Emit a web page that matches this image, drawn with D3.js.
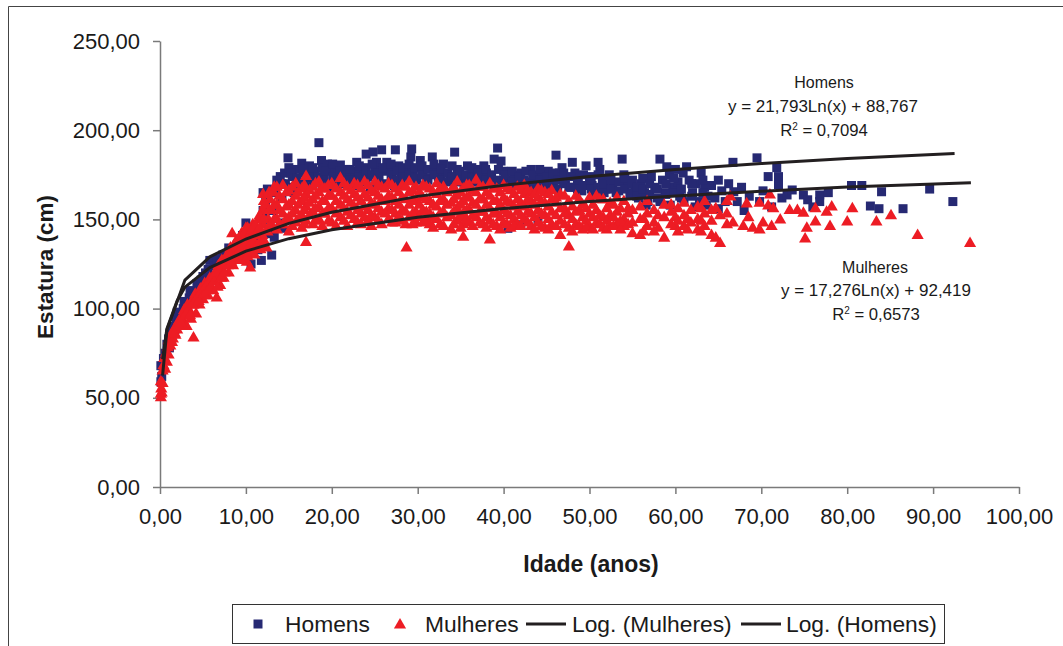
<!DOCTYPE html>
<html><head><meta charset="utf-8">
<script src="https://cdn.jsdelivr.net/npm/d3@7"></script>
<style>html,body{margin:0;padding:0;background:#fff}svg{display:block}text{font-family:"Liberation Sans",Arial,sans-serif;fill:#1a1a1a}</style>
</head><body><svg id="c" width="1063" height="646"></svg>
<script>
const xTicks=[0,10,20,30,40,50,60,70,80,90,100];
const yTicks=[0,50,100,150,200,250];
// rows: [idade, estatura, estatura, ...]
const homensInfancia=[[0.1,68,59],[0.2,62],[0.3,68],[0.4,72],[0.6,75],[0.8,80],[1,83],[1.1,78],[1.3,86],[1.5,90],[1.7,88],[1.9,94],[2,98],[2.2,96],[2.4,92],[2.7,100],[2.8,104],[3,103],[3.2,97],[3.4,106],[3.5,110],[3.7,110],[4,108],[4.2,104],[4.3,114],[4.5,113],[4.8,116],[5,111,118],[5.3,120],[5.6,122],[5.8,127],[6,118],[6.3,124],[6.6,128],[7,125],[7.3,130],[7.6,128],[8,134],[8.2,127],[8.6,132],[9,136],[9.3,130],[9.6,141],[10,148,135],[10.3,131],[10.6,125],[11,140],[11.2,144],[11.4,133],[11.8,127],[12,155,165],[12.1,150],[12.3,160],[12.5,167],[12.7,142],[13,130],[13.1,155],[13.3,140,165],[13.6,172],[14,174,148],[14.3,145]];
const homensJovens=[[14.5,176],[14.6,170],[14.9,184.5],[15,179],[15.4,174],[15.6,165],[16,178],[16.2,170],[16.5,181.5],[16.9,176],[17.1,168],[17.4,180],[17.6,173],[18,177],[18.2,171],[18.5,193],[18.8,183],[18.9,179],[19.1,174],[19.5,181],[19.7,168],[20,178],[20.3,172],[20.7,176],[21,180.5],[21.2,170],[21.6,178],[21.9,173],[22.3,175],[22.6,169],[22.9,182],[23,177],[23.4,172],[23.8,179],[24,186.6],[24.2,174],[24.5,168],[24.8,187.8],[25,178],[25.2,182],[25.5,173],[25.8,189],[25.9,177],[26.2,170],[26.4,182],[26.7,178],[27,174],[27.3,169],[27.4,189],[27.8,180],[28.1,175],[28.4,171],[28.8,178],[29.2,185],[29.3,189.5],[29.5,176],[29.9,172]];
const homensAdultos=[[30.3,183],[30.6,177],[31,173],[31.7,185],[32,179],[32.4,174],[33,181],[33.3,176],[33.8,172],[34.3,187.7],[34.6,178],[35,174],[35.4,170],[35.8,180],[36.1,175],[36.5,171],[36.9,178],[37.3,174],[37.7,180],[38,176],[38.4,171],[38.9,183.8],[39.3,190],[39.7,182.7],[40,177],[40.4,172],[40.5,145],[40.8,168],[41.2,175],[41.6,170],[42,176,147],[42.4,172],[42.8,167],[43.2,178],[43.6,174],[44,169,150],[44.4,175],[44.8,171],[45.2,177],[45.6,172],[46.1,186],[46.5,176],[46.8,179],[47.2,172],[47.6,168],[48,182],[48.3,176],[48.7,171],[49.1,166],[49.6,180],[50,174],[50.3,169],[50.7,165],[51,182],[51.2,178],[51.5,172],[51.9,167],[52.3,175],[52.7,170],[53.1,165],[53.8,183.8],[54,175],[54.3,170],[54.7,164],[55,172],[55.3,167],[55.7,162]];
const homensIdosos=[[56,170],[56.4,165],[56.6,158],[56.8,160],[57.2,174],[57.6,168],[58.2,183.8,160],[58.5,172],[58.8,165],[59,179.5],[59.3,175],[59.4,158],[59.7,168],[60,178],[60.3,171],[60.5,163],[60.9,176],[61,160],[61.3,179.5],[61.6,172],[62,165],[62.3,157],[62.4,170],[62.8,160],[63,176],[63.4,168],[63.6,158],[63.8,163],[64.2,169],[64.6,162],[65,172,156],[65.4,166],[65.8,160],[66.2,170],[66.7,182],[66.8,165.5],[67.2,160],[67.7,168],[68,155],[68.6,163],[69.5,184.5],[69.8,160],[70.2,166],[70.8,174],[71.2,157],[71.8,179],[72,174,169.5],[72.4,162],[73,163.7],[73.6,166.5],[74.9,163.7],[75.4,161],[76,157],[76.8,163.7,160],[77.8,165],[80.5,169],[81.7,169],[82.7,157.5],[83.7,156],[84,165.5],[86.5,156],[89.6,167],[92.3,160]];
const homensDensos=[[14.2,170,162],[15.2,176,168],[15.9,173],[16.7,178,171],[17.3,175,167],[17.8,179,170],[18.4,174],[19.3,177,170],[20.1,181,174],[20.9,177,171],[21.7,175],[22.1,178,172],[23.2,180,174],[24,177,171],[24.7,181,175],[25.4,176,170],[26,179],[26.9,181,175],[27.6,177,172],[28.3,179,174],[29,181,175],[29.7,179,173],[30.5,180,175],[31.2,178,172],[31.9,181,175],[32.7,178,172],[33.5,176,171],[34,180,174],[34.9,177,171],[35.6,175,170],[36.3,179,173],[37,176,171],[37.9,178,172],[38.6,175,170],[39.4,178,172],[40.2,175,170],[41,177,171],[41.8,174,169],[42.6,177,171],[43.4,175,169],[44.2,178,172],[45,174,169],[45.8,176,170],[46.3,172,167],[47,176,170],[47.9,174,168],[48.6,172,167],[49.3,175,169],[50.2,172,167],[51,175,168],[51.7,170,165],[52.5,172,167],[53.4,171,166],[54.1,173,167],[54.9,170,165],[55.5,168,163],[56.2,173,167],[57,170,164],[57.9,167,162],[58.9,170,164],[59.8,173,165],[60.7,167,162],[61.9,170,163],[63.2,172,165]];
const mulheresInfancia=[[0.1,50,52,59],[0.15,55],[0.2,52.7],[0.3,58,65],[0.4,68],[0.5,72],[0.6,66],[0.7,75],[0.8,70],[0.9,78],[1,74,82],[1.2,79],[1.3,85],[1.5,83],[1.6,88],[1.8,85],[1.9,90],[2,88],[2.2,93],[2.3,90],[2.5,95],[2.7,93],[2.8,99],[3,96],[3.1,90],[3.2,102],[3.4,99],[3.6,94],[3.7,104],[3.9,83.5,102],[4.1,108],[4.2,97],[4.4,105],[4.6,102],[4.7,111],[4.9,108],[5,105],[5.2,114],[5.4,112],[5.6,107],[5.8,117],[6,115],[6.2,110],[6.4,120],[6.6,106,118],[6.8,124],[7,113,121],[7.2,127],[7.4,117],[7.6,124],[7.8,130],[8,120,128],[8.2,134],[8.4,142],[8.5,124],[8.6,132],[8.9,138],[9,127],[9.2,135],[9.5,142],[9.6,130],[9.8,138],[10,145],[10.1,126],[10.3,134],[10.5,122.7,141],[10.8,147],[11,130,137],[11.3,144],[11.5,150],[11.7,133],[11.9,141],[12,147,155,164],[12.2,158],[12.4,134],[12.5,143],[12.6,150],[12.8,161],[13,155,147],[13.2,165]];
const mulheresInfanciaDensa=[[1.4,81],[1.7,86],[2.1,91],[2.4,92],[2.9,96],[3.3,99],[3.5,96],[3.8,102],[4.3,106],[4.5,104],[4.8,109],[5.1,108],[5.3,112],[5.5,110],[5.7,115],[5.9,112],[6.1,117],[6.3,115],[6.5,120],[6.7,112],[6.9,122],[7.1,117],[7.3,124],[7.5,120],[7.7,127],[7.9,124],[8.1,131],[8.3,126],[8.7,129,136],[9.1,131,138],[9.4,127,134,141],[9.9,131,136,143],[10.2,129,139,145],[10.7,132,137,144],[11.1,134,141,147],[11.6,137,145,152],[12.1,138,150,160],[12.7,146,155,165],[13.3,150,158,168]];
const mulheresJovens=[[13.6,168,158,150,144],[14.3,169,161,153,147],[15,166,158,151,143],[15.8,170,163,155,148],[16.5,167,160,152,145],[17,174,164,157,149,137],[17.8,168,161,154,147],[18.5,171,165,157,150],[19.2,167,160,153],[20,170,163,156,148],[21,173,165,158,151],[21.8,168,161,154,146],[22.6,170,164,157,150],[23.4,167,160,153,147],[24.2,169,162,155,149],[25,171,165,158,151],[25.8,168,161,154,147],[26.6,170,163,156,150],[27.4,167,160,153,148],[28.2,169,162,155,149],[28.7,134],[29,171,165,158,151],[29.8,168,161,154,148]];
const mulheresAdultas=[[30.6,169,162,155,148],[31.4,167,160,153,147],[32.2,170,164,157,150],[33,168,161,154,146],[33.9,166,159,152,144],[34.6,171,163,156,149],[35.3,167,160,153,147,140],[36,169,162,155,148],[36.8,172,165,158,151],[37.6,168,161,154,147],[38.4,170,163,156,149,138.5],[39.2,167,160,153,146],[40,169,162,155,148],[40.8,166,159,152,145],[41.6,168,161,154,147],[42.4,169,164,157,150],[43.2,165,160,153,146],[44,167,162,155,148],[44.8,165,159,152,145],[45.6,166,161,154,147],[46.6,164,156,149,141],[47.6,160,152,145,134.5],[48.4,163,154,147],[49.2,158,151,144],[50,162,153,146],[50.8,163,155,148],[51.6,161,151,145],[52.4,159,152,146],[53.2,162,154,147],[54,160,150,146]];
const mulheresDensas=[[13.9,163,155,147],[14.7,165,157,150],[15.4,168,160,153,146],[16.1,165,158,150],[16.8,169,162,155,147],[17.4,166,159,152],[18.1,170,163,156,149],[18.9,167,160,153,146],[19.6,169,163,156,149],[20.5,167,160,153,146],[21.4,170,163,156,149],[22.2,166,159,152],[23,169,162,155,148],[23.8,171,164,157,151],[24.6,166,159,152,146],[25.4,169,163,156,149],[26.2,167,160,153],[27,169,162,155,148],[27.8,165,158,151],[28.6,168,161,154,147],[29.4,166,160,153,147],[30.2,165,158,151],[31,168,161,154,150],[31.8,165,158,151,145],[32.6,167,160,153,147],[33.4,165,158,151],[34.2,168,161,154,147],[35,165,158,151,145],[35.7,169,162,155,150],[36.4,166,159,152,146],[37.2,168,161,154,148],[38,165,158,151,145],[38.8,167,160,153,147],[39.6,165,158,151,144],[40.4,167,160,153,147],[41.2,164,157,150,146],[42,166,159,152,146],[42.8,166,161,154,148],[43.6,164,158,151,144],[44.4,166,160,153,146],[45.2,164,157,150,144],[46.1,162,159,152,146],[47.1,163,156,153,147],[48,157,150,143],[48.8,161,155,146],[49.6,156,149,145],[50.4,158,151,144],[51.2,161,152,147],[52,156,149,144],[52.8,158,151,146],[53.6,156,149,144],[54.5,156,153,147],[56.3,150,143],[58,152,145],[60,151,146],[61.4,150,144],[63,156,149,143]];
const mulheresIdosas=[[55,155,148,142],[55.9,157,150,141],[56.7,160,153,146],[57.5,155,148,143],[58.7,158,151,139.5],[59.5,158,154,147],[60.3,156,149,143],[61,159,152,146],[61.8,155,148],[62.6,157,150,144],[63.4,160,153,146],[64.2,155,149,141],[64.7,156,139.5],[65.2,152,136.5],[66,160,153,147],[66.4,162.5],[66.7,148],[67.9,146],[68.3,158.7],[68.5,151],[69,145],[69.8,144,159],[70.2,148],[70.8,157.5],[71,163.7],[71.2,146],[71.4,156],[72.2,149.7],[73.3,155],[74.2,155],[74.9,153.5],[75.1,139],[75.3,145],[76.3,156,148.5],[77.6,154],[78,146],[78.2,157],[80,148.5],[80.6,156],[83.4,148.5],[85.1,152],[88.2,141],[94.3,136.5]];
const idadeLogHomens=[0.3,0.8,2.9,5.8,10,15,20,30,40,50,60,70,80,92.5];
const logHomens=[62.5,88,116,129,139,147.8,154,162.9,169.2,174,178,181.3,184.2,187];
const idadeLogMulheres=[0.3,0.8,2,2.9,5.8,10,15,20,30,40,50,60,70,80,94.4];
const logMulheres=[71.6,88.6,104.4,112,123,132.2,139.2,144.2,151.2,156.1,160,163.1,165.8,168.1,170.6];

const svg=d3.select("#c");
const x=d3.scaleLinear().domain([0,100]).range([160,1019]);
const y=d3.scaleLinear().domain([0,250]).range([487,41]);
const fmt=d=>d3.format(".2f")(d).replace(".",",");
const pts=rows=>rows.flatMap(r=>r.slice(1).map(h=>[r[0],h]));
const homens=pts([...homensInfancia,...homensJovens,...homensAdultos,...homensIdosos,...homensDensos]);
const mulheres=pts([...mulheresInfancia,...mulheresInfanciaDensa,...mulheresJovens,...mulheresAdultas,...mulheresDensas,...mulheresIdosas]);
const NAVY="#262973",RED="#ed1c24",LINE="#231f20",AXIS="#7a7a7a";

// frame
svg.append("path").attr("d","M8.5 646V6.5H1063").attr("fill","none").attr("stroke","#444").attr("stroke-width",1);

const gx=svg.append("g").attr("transform","translate(0,487)").call(d3.axisBottom(x).tickValues(xTicks).tickFormat(fmt).tickSize(7).tickSizeOuter(0));
const gy=svg.append("g").attr("transform","translate(160,0)").call(d3.axisLeft(y).tickValues(yTicks).tickFormat(fmt).tickSize(7).tickSizeOuter(0));
[gx,gy].forEach(g=>{g.selectAll("path,line").attr("stroke",AXIS).attr("stroke-width",1.5);g.selectAll("text").attr("font-size",22).attr("font-family",'"Liberation Sans",Arial,sans-serif').attr("fill","#1a1a1a");});
gx.selectAll("text").attr("y",21);
gy.selectAll("text").attr("x",-20);

const sq=d3.symbol().type(d3.symbolSquare).size(81)();
const tr=d3.symbol().type(d3.symbolTriangle).size(64)();
svg.append("g").selectAll("path").data(homens).join("path").attr("d",sq).attr("fill",NAVY).attr("transform",d=>`translate(${x(d[0])},${y(d[1])})`);
svg.append("g").selectAll("path").data(mulheres).join("path").attr("d",tr).attr("fill",RED).attr("transform",d=>`translate(${x(d[0])},${y(d[1])})`);

const ln=d3.line().x(d=>x(d[0])).y(d=>y(d[1]));
[[idadeLogMulheres,logMulheres],[idadeLogHomens,logHomens]].forEach(([a,v])=>svg.append("path").attr("d",ln(a.map((k,i)=>[k,v[i]]))).attr("fill","none").attr("stroke",LINE).attr("stroke-width",3));

const t=(s,px,py,size,anchor="middle",bold=false)=>svg.append("text").attr("x",px).attr("y",py).attr("font-size",size).attr("text-anchor",anchor).attr("font-weight",bold?"bold":"normal").text(s);
t("Idade (anos)",591,572,23,"middle",true);
svg.append("text").attr("transform","translate(53,267) rotate(-90)").attr("text-anchor","middle").attr("font-size",22.5).attr("font-weight","bold").text("Estatura (cm)");

function r2(px,py,val){const e=svg.append("text").attr("x",px).attr("y",py).attr("font-size",16.7).attr("text-anchor","middle");
 e.append("tspan").text("R");e.append("tspan").attr("font-size",10).attr("dy",-6).text("2");e.append("tspan").attr("dy",6).text(" = "+val);}
t("Homens",824,88,16);
t("y = 21,793Ln(x) + 88,767",823,112,17);
r2(824,136,"0,7094");
t("Mulheres",875,273,16);
t("y = 17,276Ln(x) + 92,419",876,296,17);
r2(876,320,"0,6573");

// legend
svg.append("rect").attr("x",232.5).attr("y",604.5).attr("width",712).attr("height",39).attr("fill","#fff").attr("stroke","#333").attr("stroke-width",1);
svg.append("path").attr("d",sq).attr("fill",NAVY).attr("transform","translate(258,624)");
svg.append("path").attr("d",tr).attr("fill",RED).attr("transform","translate(400,625)");
t("Homens",285,632,22.8,"start");
t("Mulheres",425,632,22.8,"start");
svg.append("path").attr("d","M526 624H566").attr("stroke",LINE).attr("stroke-width",3);
t("Log. (Mulheres)",572,632,22.8,"start");
svg.append("path").attr("d","M741 624H781").attr("stroke",LINE).attr("stroke-width",3);
t("Log. (Homens)",786,632,22.8,"start");
</script></body></html>
